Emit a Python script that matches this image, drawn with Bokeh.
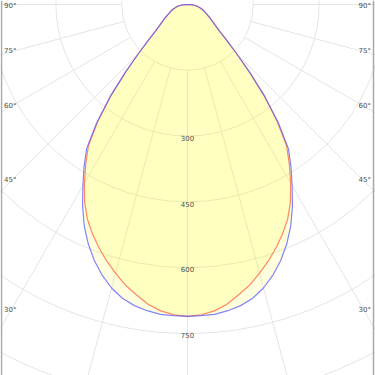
import numpy as np
from bokeh.plotting import figure
from bokeh.models import Span
from bokeh.core.properties import value
from bokeh.embed import file_html
from bokeh.resources import INLINE

# ---- data (luminous intensity, cd, vs angle from nadir, degrees) ----
angles = [0, 2.5, 5, 7.5, 10, 12.5, 15, 17.5, 20, 22.5, 25, 27.5, 30, 32.5, 35, 37.5,
          40, 42.5, 45, 47.5, 50, 52.5, 55, 57.5, 60, 62.5, 65, 67.5, 70, 72.5, 75,
          77.5, 80, 82.5, 85, 87.5, 90]
c0_180 = [711, 708, 701, 689, 672, 655, 634, 613, 590, 566, 540, 508, 470, 432, 394, 336,
          272, 208, 158, 122, 97, 82, 72, 64, 57, 51, 46, 42, 38, 34, 30,
          26, 22, 17, 12, 6, 0]
c90_270 = [711, 710, 709, 704, 697, 686, 669, 647, 621, 591, 557, 518, 477, 439, 401, 340,
           275, 210, 158, 122, 97, 82, 72, 64, 57, 51, 46, 42, 38, 34, 30,
           26, 22, 17, 12, 6, 0]
ring_values = [150, 300, 450, 600, 750, 900, 1050, 1200]
ring_labels = ["300", "450", "600", "750"]
spoke_angles = [-90, -75, -60, -45, -30, -15, 0, 15, 30, 45, 60, 75, 90]
angle_labels = [30, 45, 60, 75, 90]

W = 375
p = figure(width=W, height=W, output_backend="svg", toolbar_location=None,
           x_range=(-426.3, 428.5), y_range=(-845.7, 9.1),
           x_axis_location=None, y_axis_location=None, min_border=0,
           background_fill_color="white", border_fill_color="white")
p.grid.visible = False
p.outline_line_color = None

grid_col = "#e4e4e4"

# rings
p.circle(x=[0] * len(ring_values), y=[0] * len(ring_values), radius=ring_values,
         fill_color=None, line_color=grid_col, line_width=1)

# spokes from the first ring outward
th = np.radians(spoke_angles)
r0, r1 = ring_values[0], 2000
p.segment(x0=r0 * np.sin(th), y0=-r0 * np.cos(th), x1=r1 * np.sin(th), y1=-r1 * np.cos(th),
          line_color=grid_col, line_width=1)

def curve(vals):
    a = np.array(angles, dtype=float)
    v = np.array(vals, dtype=float)
    full_a = np.concatenate([-a[::-1], a[1:]])
    full_v = np.concatenate([v[::-1], v[1:]])
    t = np.radians(full_a)
    return full_v * np.sin(t), -full_v * np.cos(t)

xr, yr = curve(c0_180)
xb, yb = curve(c90_270)

p.patch(xb, yb, fill_color="#ffff00", fill_alpha=0.13, line_color=None)
p.patch(xr, yr, fill_color="#ffff00", fill_alpha=0.13, line_color=None)
p.line(xr, yr, line_color="#ff7a55", line_width=1.2, line_alpha=0.9)
p.line(xb, yb, line_color="#5a5aff", line_width=1.2, line_alpha=0.75)

# ring labels along nadir
lab_r = [int(s) for s in ring_labels]
p.text(x=[0] * len(lab_r), y=[-(r + 4) for r in lab_r], text=ring_labels,
       text_align="center", text_baseline="middle", text_font_size="7px",
       text_color="#505050", text_font=value("DejaVu Sans"))

# angle labels at both sides
dx = 404.0
lx, ly, lt = [], [], []
for a in angle_labels:
    yy = -3.5 if a == 90 else -dx / np.tan(np.radians(a)) + 3
    for s in (-1, 1):
        lx.append(s * dx)
        ly.append(yy)
        lt.append(f"{a}°")
p.text(x=lx, y=ly, text=lt, text_align="center", text_baseline="middle",
       text_font_size="7px", text_color="#505050", text_font=value("DejaVu Sans"))

# side borders
p.add_layout(Span(location=-424, dimension="height", line_color="#a8a8a8", line_width=1.5))
p.add_layout(Span(location=424, dimension="height", line_color="#a8a8a8", line_width=1.5))

open("out.html", "w").write(file_html(p, INLINE))
